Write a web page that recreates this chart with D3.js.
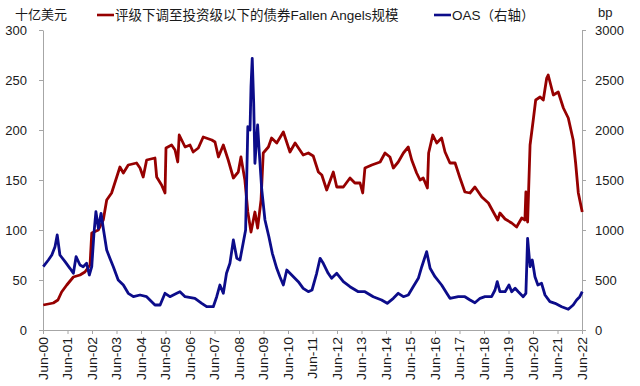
<!DOCTYPE html>
<html>
<head>
<meta charset="utf-8">
<script src="https://cdn.jsdelivr.net/npm/d3@7"></script>
<style>
  body { margin: 0; background: #fff; }
  text { font-family: "Liberation Sans", Arial, "Noto Sans CJK SC", sans-serif; fill: #1a1a1a; }
</style>
</head>
<body>
<script>
// decimal year, value (十亿美元)
const fallenAngels = [
  [2000.51, 25], [2000.92, 27], [2001.11, 30], [2001.26, 38], [2001.47, 45],
  [2001.74, 53], [2002.01, 55], [2002.21, 58], [2002.42, 65], [2002.49, 97],
  [2002.76, 100], [2002.96, 110], [2003.10, 130], [2003.30, 137], [2003.51, 153],
  [2003.64, 163], [2003.78, 157], [2003.98, 165], [2004.32, 167], [2004.46, 162],
  [2004.59, 153], [2004.73, 170], [2005.07, 172], [2005.14, 153], [2005.34, 145],
  [2005.48, 137], [2005.52, 182], [2005.75, 185], [2005.89, 180], [2006.00, 168],
  [2006.06, 195], [2006.30, 183], [2006.50, 185], [2006.63, 178], [2006.84, 182],
  [2007.04, 193], [2007.39, 190], [2007.52, 188], [2007.66, 173], [2007.86, 185],
  [2008.06, 170], [2008.27, 152], [2008.47, 158], [2008.58, 173], [2008.74, 150],
  [2008.86, 118], [2008.99, 98], [2009.15, 118], [2009.26, 102], [2009.40, 130],
  [2009.49, 177], [2009.70, 183], [2009.83, 192], [2010.04, 187], [2010.31, 198],
  [2010.58, 178], [2010.79, 187], [2011.12, 175], [2011.33, 177], [2011.53, 174],
  [2011.74, 158], [2011.88, 155], [2012.08, 140], [2012.35, 158], [2012.49, 143],
  [2012.76, 143], [2013.03, 152], [2013.23, 147], [2013.44, 147], [2013.55, 137],
  [2013.64, 162], [2013.92, 165], [2014.26, 168], [2014.46, 177], [2014.66, 173],
  [2014.80, 162], [2015.00, 168], [2015.21, 177], [2015.41, 183], [2015.55, 170],
  [2015.75, 157], [2015.89, 150], [2016.02, 152], [2016.19, 142], [2016.24, 177],
  [2016.41, 195], [2016.57, 187], [2016.77, 192], [2016.91, 178], [2017.11, 167],
  [2017.32, 167], [2017.52, 152], [2017.72, 138], [2017.93, 137], [2018.13, 143],
  [2018.41, 133], [2018.68, 127], [2018.88, 118], [2019.06, 110], [2019.15, 117],
  [2019.36, 111], [2019.63, 107], [2019.83, 103], [2020.04, 112], [2020.17, 110],
  [2020.21, 138], [2020.28, 108], [2020.38, 185], [2020.51, 210], [2020.61, 230],
  [2020.79, 233], [2020.92, 230], [2021.06, 252], [2021.12, 255], [2021.33, 235],
  [2021.53, 238], [2021.74, 222], [2021.94, 212], [2022.14, 190], [2022.24, 167],
  [2022.35, 137], [2022.51, 118]
];

// decimal year, OAS (bp)
const oas = [
  [2000.51, 633], [2000.72, 700], [2000.86, 750], [2000.99, 833], [2001.08, 950],
  [2001.19, 750], [2001.40, 683], [2001.60, 617], [2001.74, 567], [2001.85, 733],
  [2002.01, 650], [2002.14, 633], [2002.28, 667], [2002.39, 550], [2002.49, 633],
  [2002.58, 967], [2002.66, 1183], [2002.76, 1017], [2002.87, 1167], [2002.96, 1017],
  [2003.10, 800], [2003.23, 717], [2003.37, 633], [2003.57, 500], [2003.78, 450],
  [2003.98, 367], [2004.19, 333], [2004.46, 350], [2004.73, 333], [2005.07, 250],
  [2005.28, 250], [2005.48, 367], [2005.68, 333], [2005.96, 367], [2006.09, 383],
  [2006.30, 333], [2006.70, 317], [2006.98, 267], [2007.18, 233], [2007.45, 233],
  [2007.59, 333], [2007.72, 450], [2007.86, 367], [2007.99, 567], [2008.13, 667],
  [2008.27, 900], [2008.41, 717], [2008.54, 700], [2008.68, 883], [2008.77, 1000],
  [2008.86, 2033], [2008.95, 2000], [2008.99, 2433], [2009.04, 2717], [2009.10, 2267],
  [2009.15, 1667], [2009.26, 2050], [2009.33, 1767], [2009.43, 1400], [2009.56, 1100],
  [2009.72, 933], [2009.86, 767], [2010.04, 617], [2010.17, 533], [2010.31, 450],
  [2010.45, 600], [2010.65, 550], [2010.92, 483], [2011.12, 417], [2011.33, 383],
  [2011.48, 400], [2011.67, 567], [2011.81, 717], [2011.94, 667], [2012.14, 567],
  [2012.28, 517], [2012.49, 567], [2012.76, 483], [2013.03, 433], [2013.37, 383],
  [2013.64, 383], [2013.98, 333], [2014.32, 300], [2014.55, 267], [2014.80, 317],
  [2015.00, 367], [2015.21, 333], [2015.41, 350], [2015.61, 433], [2015.82, 517],
  [2015.96, 633], [2016.16, 783], [2016.30, 617], [2016.50, 533], [2016.77, 450],
  [2016.98, 367], [2017.11, 317], [2017.45, 333], [2017.72, 333], [2017.93, 300],
  [2018.13, 273], [2018.34, 317], [2018.54, 333], [2018.81, 333], [2018.95, 400],
  [2019.04, 483], [2019.15, 383], [2019.36, 383], [2019.52, 450], [2019.63, 383],
  [2019.77, 417], [2019.90, 383], [2020.10, 333], [2020.21, 367], [2020.28, 917],
  [2020.38, 633], [2020.47, 700], [2020.58, 533], [2020.70, 450], [2020.85, 467],
  [2020.99, 350], [2021.19, 283], [2021.40, 267], [2021.67, 233], [2021.94, 207],
  [2022.14, 250], [2022.28, 300], [2022.41, 333], [2022.51, 383]
];

const leftTicks = [0, 50, 100, 150, 200, 250, 300];
const rightTicks = [0, 500, 1000, 1500, 2000, 2500, 3000];
const xTicks = d3.range(2000.5, 2022.51, 1);

const RED = "#960000";
const BLUE = "#0c0c8a";
const AXIS = "#a6a6a6";

const width = 640, height = 386;

const x = d3.scaleLinear().domain([2000.5, 2022.5]).range([43, 582]);
const yL = d3.scaleLinear().domain([0, 300]).range([330, 30]);
const yR = d3.scaleLinear().domain([0, 3000]).range([330, 30]);

const svg = d3.select("body").append("svg")
  .attr("width", width)
  .attr("height", height);

const styleAxis = g => {
  g.select(".domain").attr("stroke", AXIS);
  g.selectAll(".tick line").attr("stroke", AXIS);
  g.selectAll("text").style("font-size", "13px").attr("fill", "#1a1a1a");
};

svg.append("g")
  .attr("transform", `translate(${x.range()[0]},0)`)
  .call(d3.axisLeft(yL).tickValues(leftTicks).tickSize(4).tickPadding(12).tickSizeOuter(0))
  .call(styleAxis);

svg.append("g")
  .attr("transform", `translate(${x.range()[1]},0)`)
  .call(d3.axisRight(yR).tickValues(rightTicks).tickFormat(d3.format("d"))
    .tickSize(4).tickPadding(9).tickSizeOuter(0))
  .call(styleAxis);

svg.append("g")
  .attr("transform", `translate(0,${yL.range()[0]})`)
  .call(d3.axisBottom(x).tickValues(xTicks).tickSize(4).tickSizeOuter(0)
    .tickFormat(d => "Jun-" + String(Math.floor(d) % 100).padStart(2, "0")))
  .call(styleAxis)
  .call(g => g.selectAll("text")
    .attr("y", 0)
    .attr("x", 0)
    .attr("dy", null)
    .style("text-anchor", "end")
    .attr("dominant-baseline", "central")
    .attr("transform", "translate(0,7) rotate(-90) scale(1.08,1)"));

const line = y => d3.line().x(d => x(d[0])).y(d => y(d[1]));

svg.append("path")
  .datum(fallenAngels)
  .attr("fill", "none")
  .attr("stroke", RED)
  .attr("stroke-width", 2.8)
  .attr("stroke-linejoin", "round")
  .attr("d", line(yL));

svg.append("path")
  .datum(oas)
  .attr("fill", "none")
  .attr("stroke", BLUE)
  .attr("stroke-width", 2.8)
  .attr("stroke-linejoin", "round")
  .attr("d", line(yR));

// unit labels
svg.append("text").attr("x", 15).attr("y", 14).attr("dy", "0.35em")
  .style("font-size", "13px").text("十亿美元");
svg.append("text").attr("x", 598).attr("y", 12).attr("dy", "0.35em")
  .style("font-size", "13px").text("bp");

// legend
const legend = [
  { name: "评级下调至投资级以下的债券Fallen Angels规模", color: RED, x: 97 },
  { name: "OAS（右轴）", color: BLUE, x: 434 }
];
const lg = svg.append("g").selectAll("g").data(legend).join("g")
  .attr("transform", d => `translate(${d.x},15)`);
lg.append("line").attr("x1", 0).attr("x2", 17)
  .attr("stroke", d => d.color).attr("stroke-width", 2.6);
lg.append("text").attr("x", 18).attr("dy", "0.35em")
  .style("font-size", "13.5px").text(d => d.name);
</script>
</body>
</html>
